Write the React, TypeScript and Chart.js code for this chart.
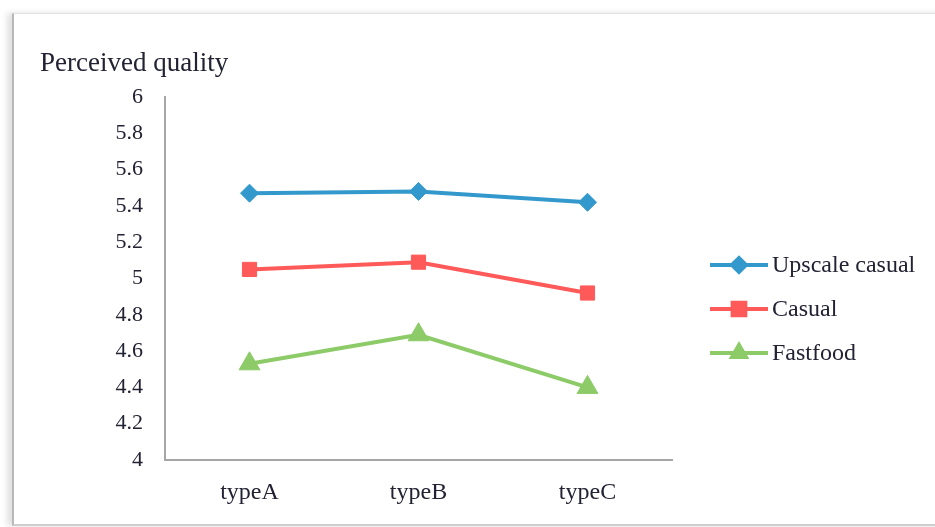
import React, { useEffect, useRef } from "react";
import { Chart, registerables } from "chart.js";
import { drawPoint } from "chart.js/helpers";

Chart.register(...registerables);

const categories = ["typeA", "typeB", "typeC"];
const seriesNames = ["Upscale casual", "Casual", "Fastfood"];
const upscaleCasual = [5.47, 5.48, 5.42];
const casual = [5.05, 5.09, 4.92];
const fastfood = [4.53, 4.69, 4.4];
const yMin = 4;
const yMax = 6;
const yStep = 0.2;
const yTitle = "Perceived quality";

const SERIF = "'Liberation Serif', 'Times New Roman', serif";
const TEXT = "#222233";

const styles = [
  { color: "#3399CC", point: "rectRot", radius: 9, legendRadius: 7 },
  { color: "#FF5A5A", point: "rect", radius: 10, legendRadius: 9 },
  { color: "#8CCB68", point: "triangle", radius: 12, legendRadius: 8 },
];

const extras = {
  id: "extras",
  afterDraw(chart: any) {
    const ctx = chart.ctx as CanvasRenderingContext2D;
    ctx.save();
    // axis title above the value axis
    ctx.fillStyle = TEXT;
    ctx.font = `27px ${SERIF}`;
    ctx.textAlign = "left";
    ctx.textBaseline = "middle";
    ctx.fillText(yTitle, 40, 64);

    // legend: line sample with marker, then label
    chart.data.datasets.forEach((ds: any, i: number) => {
      const y = 265 + i * 44;
      const st = styles[i];
      ctx.strokeStyle = st.color;
      ctx.lineWidth = 4;
      ctx.beginPath();
      ctx.moveTo(710, y);
      ctx.lineTo(768, y);
      ctx.stroke();
      ctx.fillStyle = st.color;
      ctx.strokeStyle = st.color;
      drawPoint(ctx, { pointStyle: st.point, radius: st.legendRadius, rotation: 0, borderWidth: 1 } as any, 739, y);
      ctx.fillStyle = TEXT;
      ctx.font = `24px ${SERIF}`;
      ctx.textAlign = "left";
      ctx.textBaseline = "middle";
      ctx.fillText(ds.label, 772, y + 1);
    });
    ctx.restore();
  },
};

export default function App() {
  const ref = useRef<HTMLCanvasElement | null>(null);

  useEffect(() => {
    if (!ref.current) return;
    const values = [upscaleCasual, casual, fastfood];
    const chart = new Chart(ref.current, {
      type: "line",
      data: {
        labels: categories,
        datasets: values.map((v, i) => ({
          label: seriesNames[i],
          data: v,
          borderColor: styles[i].color,
          backgroundColor: styles[i].color,
          borderWidth: 4,
          pointStyle: styles[i].point as any,
          pointRadius: styles[i].radius,
          pointBorderWidth: 1,
          pointBackgroundColor: styles[i].color,
          pointBorderColor: styles[i].color,
          tension: 0,
          clip: false as any,
        })),
      },
      options: {
        animation: false,
        responsive: false,
        layout: { padding: { left: 0, top: 97, right: 263, bottom: 0 } },
        plugins: {
          legend: { display: false },
          tooltip: { enabled: false },
          title: { display: false },
        },
        scales: {
          x: {
            offset: true,
            grid: { display: false, drawTicks: false },
            border: { display: true, color: "#A6A6A6", width: 2 },
            ticks: {
              color: TEXT,
              font: { family: SERIF, size: 24 },
              padding: 18,
            },
            afterFit(s: any) {
              s.height = 527 - 460;
            },
          },
          y: {
            min: yMin,
            max: yMax,
            grid: { display: false, drawTicks: false },
            border: { display: true, color: "#A6A6A6", width: 2 },
            ticks: {
              stepSize: yStep,
              color: TEXT,
              font: { family: SERIF, size: 22 },
              padding: 22,
              callback: (v: any) => String(parseFloat(Number(v).toFixed(1))),
            },
            afterFit(s: any) {
              s.width = 165;
            },
          },
        },
      },
      plugins: [extras],
    });
    return () => chart.destroy();
  }, []);

  return (
    <div style={{ position: "fixed", left: 0, top: 0, width: 935, height: 527, background: "#fff", overflow: "hidden" }}>
      <div
        style={{
          position: "absolute",
          left: 12,
          top: 13,
          width: 960,
          height: 510,
          borderLeft: "2px solid #B8B8B8",
          borderTop: "1px solid #E2E2E2",
          borderBottom: "2px solid #CFCFCF",
          boxShadow: "-5px 0 6px rgba(0,0,0,0.12)",
        }}
      />
      <canvas ref={ref} width={935} height={527} style={{ position: "absolute", left: 0, top: 0 }} />
    </div>
  );
}
